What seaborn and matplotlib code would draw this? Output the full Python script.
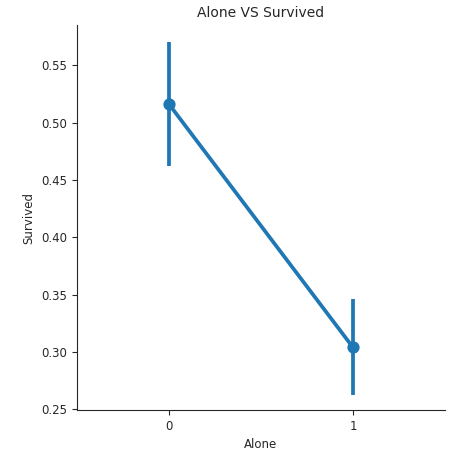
import matplotlib
matplotlib.use("Agg")
import matplotlib.pyplot as plt
import seaborn as sns
import pandas as pd

alone = ["0", "1"]
survived_mean = [0.516, 0.304]
ci_low = [0.462, 0.263]
ci_high = [0.570, 0.346]

sns.set_style("ticks")
plt.rcParams.update({"font.size": 8.5, "xtick.labelsize": 8.5, "ytick.labelsize": 8.5,
                     "axes.labelsize": 8.5, "axes.titlesize": 10})
fig = plt.figure(figsize=(4.77, 4.61), dpi=100)
ax = fig.add_axes([77/477, 51/461, 368/477, 385/461])
df = pd.DataFrame({"Alone": alone, "Survived": survived_mean})
sns.pointplot(data=df, x="Alone", y="Survived", errorbar=None, color="#1f77b4", ax=ax)
ax.vlines(range(len(alone)), ci_low, ci_high, color="#1f77b4", lw=2.7)
ax.set_ylim(0.2495, 0.585)
ax.set_xlim(-0.5, 1.5)
ax.set_title("Alone VS Survived")
sns.despine(ax=ax)
fig.savefig("out.png", dpi=100)
